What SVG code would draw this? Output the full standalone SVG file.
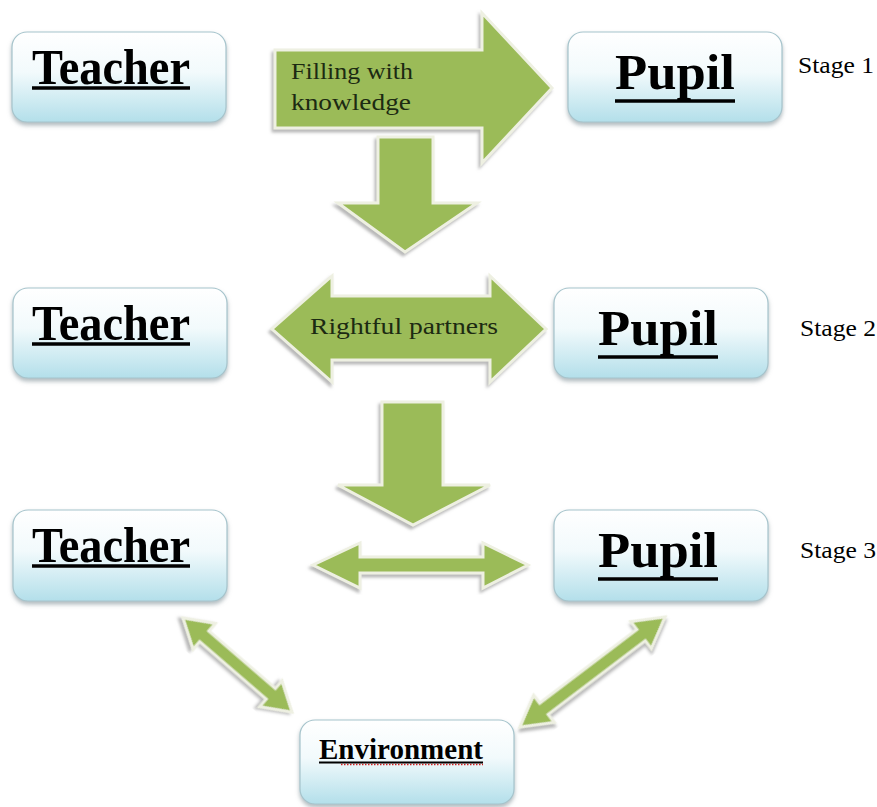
<svg xmlns="http://www.w3.org/2000/svg" width="877" height="807" viewBox="0 0 877 807">
<defs>
  <linearGradient id="boxGrad" x1="0" y1="0" x2="0" y2="1">
    <stop offset="0" stop-color="#ffffff"/>
    <stop offset="0.45" stop-color="#f2fafc"/>
    <stop offset="1" stop-color="#b3dfea"/>
  </linearGradient>
  <filter id="boxShadow" x="-10%" y="-10%" width="120%" height="130%">
    <feDropShadow dx="0" dy="3" stdDeviation="2" flood-color="#7f8f94" flood-opacity="0.6"/>
  </filter>
  <filter id="arrowShadow" x="-15%" y="-15%" width="130%" height="130%">
    <feDropShadow dx="-2" dy="3" stdDeviation="1.5" flood-color="#9a9a9a" flood-opacity="0.7"/>
  </filter>
</defs>
<style>
  .box { fill: url(#boxGrad); stroke: #a6c4cc; stroke-width: 1.2; filter: url(#boxShadow); }
  .arrow { fill: #9bbb59; stroke: #eef0e2; stroke-width: 3; stroke-linejoin: miter; filter: url(#arrowShadow); }
  .big { font-family: "Liberation Serif", "Times New Roman", serif; font-weight: bold; font-size: 50px; fill: #000; }
  .ul { stroke: #000; stroke-width: 3.5; }
  .atext { font-family: "Liberation Serif", "Times New Roman", serif; font-size: 24px; fill: #1c2a12; }
  .stage { font-family: "Liberation Serif", "Times New Roman", serif; font-size: 24px; fill: #000; }
</style>
<rect width="877" height="807" fill="#ffffff"/>

<g id="connectors">
  <path class="arrow" d="M275,50 L482,50 L482,13 L552,88 L482,163 L482,128 L275,128 Z"/>
  <path class="arrow" d="M378,137 L433,137 L433,203 L477,203 L405,252 L338,203 L378,203 Z"/>
  <path class="arrow" d="M272,329 L332,276 L332,296 L490,296 L490,276 L546,329 L490,382 L490,360 L332,360 L332,382 Z"/>
  <path class="arrow" d="M382,402 L443,402 L443,485 L490,485 L413,525 L338,485 L382,485 Z"/>
  <path class="arrow" d="M313,565 L360,543 L360,557 L483,557 L483,543 L528,565 L483,588 L483,573 L360,573 L360,588 Z"/>
  <path class="arrow" transform="translate(183,618) rotate(40.8)" d="M0,0 L28,-17 L28,-7 L116,-7 L116,-17 L144,0 L116,17 L116,7 L28,7 L28,17 Z"/>
  <path class="arrow" transform="translate(520,727) rotate(-37.2)" d="M0,0 L30,-17 L30,-7 L152,-7 L152,-17 L182,0 L152,17 L152,7 L30,7 L30,17 Z"/>
  <text class="atext" x="291" y="79" textLength="122" lengthAdjust="spacingAndGlyphs">Filling with</text>
  <text class="atext" x="291" y="110" textLength="120" lengthAdjust="spacingAndGlyphs">knowledge</text>
  <text class="atext" x="310" y="334" textLength="188" lengthAdjust="spacingAndGlyphs">Rightful partners</text>
</g>

<g id="teacher1">
  <rect class="box" x="12" y="32" width="214" height="90" rx="15"/>
  <text class="big" x="32" y="84" textLength="158" lengthAdjust="spacingAndGlyphs">Teacher</text>
  <line class="ul" x1="32" y1="88" x2="190" y2="88"/>
</g>
<g id="pupil1">
  <rect class="box" x="568" y="32" width="214" height="90" rx="15"/>
  <text class="big" x="615" y="89" textLength="120" lengthAdjust="spacingAndGlyphs">Pupil</text>
  <line class="ul" x1="615" y1="101" x2="735" y2="101"/>
</g>
<g id="stage1"><text class="stage" x="798" y="73" textLength="76" lengthAdjust="spacingAndGlyphs">Stage 1</text></g>

<g id="teacher2">
  <rect class="box" x="13" y="288" width="214" height="90" rx="15"/>
  <text class="big" x="32" y="340" textLength="158" lengthAdjust="spacingAndGlyphs">Teacher</text>
  <line class="ul" x1="32" y1="344" x2="190" y2="344"/>
</g>
<g id="pupil2">
  <rect class="box" x="554" y="288" width="214" height="90" rx="15"/>
  <text class="big" x="598" y="345" textLength="120" lengthAdjust="spacingAndGlyphs">Pupil</text>
  <line class="ul" x1="598" y1="357" x2="718" y2="357"/>
</g>
<g id="stage2"><text class="stage" x="800" y="336" textLength="76" lengthAdjust="spacingAndGlyphs">Stage 2</text></g>

<g id="teacher3">
  <rect class="box" x="13" y="510" width="214" height="91" rx="15"/>
  <text class="big" x="32" y="562" textLength="158" lengthAdjust="spacingAndGlyphs">Teacher</text>
  <line class="ul" x1="32" y1="566" x2="190" y2="566"/>
</g>
<g id="pupil3">
  <rect class="box" x="554" y="510" width="214" height="91" rx="15"/>
  <text class="big" x="598" y="567" textLength="120" lengthAdjust="spacingAndGlyphs">Pupil</text>
  <line class="ul" x1="598" y1="579" x2="718" y2="579"/>
</g>
<g id="stage3"><text class="stage" x="800" y="558" textLength="76" lengthAdjust="spacingAndGlyphs">Stage 3</text></g>

<g id="environment">
  <rect class="box" x="300" y="720" width="214" height="84" rx="15"/>
  <text class="big" x="319" y="759" style="font-size:29px" textLength="164" lengthAdjust="spacingAndGlyphs">Environment</text>
  <line x1="319" y1="762.5" x2="483" y2="762.5" stroke="#000" stroke-width="2"/>
  <line x1="341" y1="764.5" x2="483" y2="764.5" stroke="#d02020" stroke-width="1.6" stroke-dasharray="1.5 1.5"/>
</g>
</svg>
